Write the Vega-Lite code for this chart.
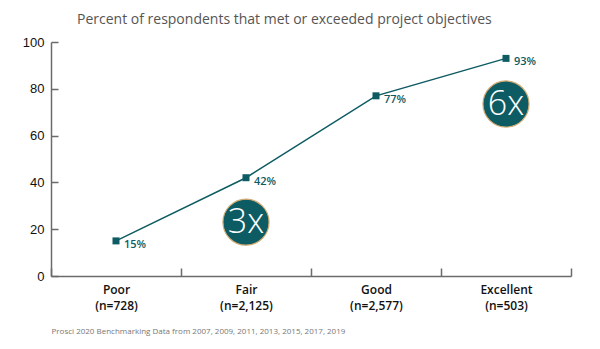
{
  "$schema": "https://vega.github.io/schema/vega-lite/v6.json",
  "width": 520,
  "height": 234,
  "autosize": "none",
  "padding": {"left": 51, "top": 42, "right": 29, "bottom": 73},
  "background": "white",
  "title": {
    "text": "Percent of respondents that met or exceeded project objectives",
    "anchor": "start",
    "frame": "group",
    "dx": 26,
    "offset": 9,
    "font": "Open Sans",
    "fontSize": 14,
    "fontWeight": "normal",
    "color": "#555555"
  },
  "config": {
    "view": {"stroke": null},
    "axis": {"grid": false}
  },
  "datasets": {
    "series": [
      {"cat": "Poor (n=728)", "pct": 15, "lab": "15%"},
      {"cat": "Fair (n=2,125)", "pct": 42, "lab": "42%"},
      {"cat": "Good (n=2,577)", "pct": 77, "lab": "77%"},
      {"cat": "Excellent (n=503)", "pct": 93, "lab": "93%"}
    ],
    "badges": [
      {"cat": "Fair (n=2,125)", "pct": 23, "lab": "3x"},
      {"cat": "Excellent (n=503)", "pct": 73.5, "lab": "6x"}
    ]
  },
  "encoding": {
    "x": {
      "field": "cat",
      "type": "nominal",
      "scale": {"domain": ["Poor (n=728)", "Fair (n=2,125)", "Good (n=2,577)", "Excellent (n=503)"], "paddingInner": 0, "paddingOuter": 0},
      "axis": {
        "title": "Prosci 2020 Benchmarking Data from 2007, 2009, 2011, 2013, 2015, 2017, 2019",
        "titleFont": "Open Sans",
        "titleFontSize": 8,
        "titleFontWeight": "normal",
        "titleColor": "#777777",
        "titleAnchor": "start",
        "titleAlign": "left",
        "titleBaseline": "middle",
        "titleX": 0,
        "titleY": 55,
        "labelAngle": 0,
        "labelExpr": "split(datum.label, ' ')",
        "labelFont": "Open Sans",
        "labelFontSize": 12,
        "labelFontWeight": 600,
        "labelColor": "#111111",
        "labelLineHeight": 16,
        "labelPadding": 16,
        "tickBand": "extent",
        "tickSize": -8,
        "tickColor": "#6b6b6b",
        "tickWidth": 1.5,
        "domainColor": "#6b6b6b",
        "domainWidth": 1.5
      }
    },
    "y": {
      "field": "pct",
      "type": "quantitative",
      "scale": {"domain": [0, 100], "nice": false},
      "axis": {
        "title": null,
        "values": [0, 20, 40, 60, 80, 100],
        "labelFont": "Liberation Sans",
        "labelFontSize": 13,
        "labelColor": "#111111",
        "labelPadding": 14,
        "tickSize": -7,
        "tickColor": "#6b6b6b",
        "tickWidth": 1.5,
        "domainColor": "#6b6b6b",
        "domainWidth": 1.5
      }
    }
  },
  "layer": [
    {
      "data": {"name": "series"},
      "mark": {"type": "line", "color": "#0d5b63", "strokeWidth": 1.5}
    },
    {
      "data": {"name": "series"},
      "mark": {"type": "point", "shape": "square", "filled": true, "size": 49, "color": "#0d5b63", "opacity": 1}
    },
    {
      "data": {"name": "series"},
      "mark": {"type": "text", "align": "left", "baseline": "middle", "dx": 8, "dy": 4, "font": "Open Sans", "fontSize": 11, "fontWeight": 600, "color": "#0d5b63"},
      "encoding": {"text": {"field": "lab"}}
    },
    {
      "data": {"name": "badges"},
      "mark": {"type": "point", "shape": "circle", "filled": true, "size": 2124, "fill": "#0d5b63", "stroke": "#d2ab74", "strokeWidth": 1.2, "opacity": 1}
    },
    {
      "data": {"name": "badges"},
      "mark": {"type": "text", "align": "center", "baseline": "middle", "dy": 1, "font": "Open Sans", "fontSize": 34, "fontWeight": 300, "color": "white"},
      "encoding": {"text": {"field": "lab"}}
    }
  ]
}
